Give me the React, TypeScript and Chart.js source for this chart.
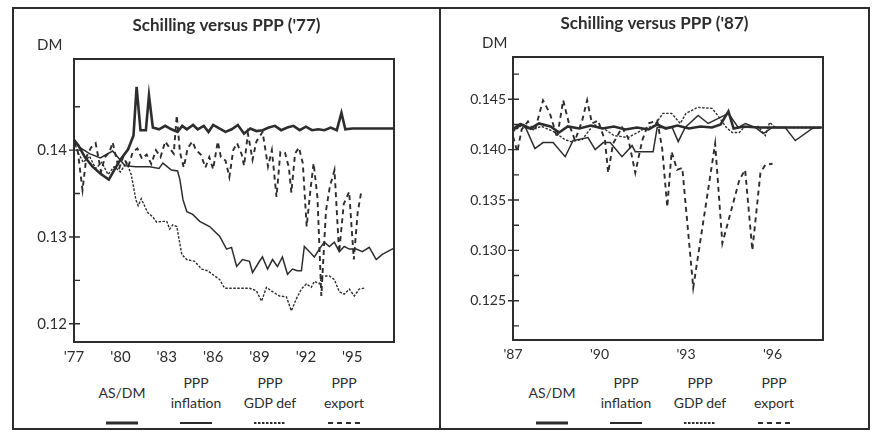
import React, { useEffect, useRef } from "react";
import { Chart, registerables } from "chart.js";

Chart.register(...registerables);

type P = [number, number];

// ---------- text ----------
const leftTitle = "Schilling versus PPP ('77)";
const rightTitle = "Schilling versus PPP ('87)";
const unitLabel = "DM";
const seriesNames = ["AS/DM", "PPP inflation", "PPP GDP def", "PPP export"];
const legendLabels: string[][] = [["AS/DM"], ["PPP", "inflation"], ["PPP", "GDP def"], ["PPP", "export"]];

// ---------- ticks ----------
const leftXTicks = [1977, 1980, 1983, 1986, 1989, 1992, 1995];
const leftYTicks = [0.12, 0.13, 0.14];
const leftYMinor = [0.125, 0.135, 0.145];
const rightXTicks = [1987, 1990, 1993, 1996];
const rightYTicks = [0.125, 0.13, 0.135, 0.14, 0.145];
const rightYMinor = [0.1225, 0.1275, 0.1325, 0.1375, 0.1425, 0.1475];

// ---------- left panel data (year, DM per schilling) ----------
const leftAsdm: P[] = [
  [1977.0, 0.1412], [1977.3, 0.1405], [1977.7, 0.1392], [1978.2, 0.1381], [1978.7, 0.1373],
  [1979.25, 0.1366], [1979.6, 0.1377], [1980.0, 0.1389], [1980.5, 0.1401], [1980.85, 0.1417],
  [1981.05, 0.1473], [1981.3, 0.1423], [1981.65, 0.1423], [1981.85, 0.1463], [1982.1, 0.1426],
  [1982.5, 0.1424], [1982.9, 0.1428], [1983.3, 0.1424], [1983.7, 0.1421], [1984.0, 0.1428],
  [1984.3, 0.1424], [1984.7, 0.1429], [1985.0, 0.1424], [1985.4, 0.1428], [1985.7, 0.1421],
  [1986.0, 0.1429], [1986.4, 0.1425], [1986.8, 0.1421], [1987.2, 0.1424], [1987.6, 0.1429],
  [1988.0, 0.1419], [1988.4, 0.1425], [1988.8, 0.1422], [1989.2, 0.1423], [1989.6, 0.1426],
  [1990.0, 0.1428], [1990.4, 0.1423], [1990.8, 0.1426], [1991.2, 0.1428], [1991.6, 0.1423],
  [1992.0, 0.1427], [1992.4, 0.1423], [1992.8, 0.1424], [1993.2, 0.1423], [1993.6, 0.1426],
  [1994.0, 0.1423], [1994.3, 0.1443], [1994.55, 0.1424], [1995.0, 0.1425], [1996.0, 0.1425],
  [1997.7, 0.1425],
];
const leftInflation: P[] = [
  [1977.0, 0.1412], [1977.3, 0.1404], [1978.0, 0.1396], [1978.7, 0.1391], [1979.5, 0.1399],
  [1980.3, 0.1382], [1981.0, 0.1381], [1981.9, 0.1381], [1982.5, 0.1379], [1982.75, 0.1385],
  [1983.3, 0.1377], [1983.7, 0.1376], [1983.85, 0.1366], [1984.05, 0.1343], [1984.3, 0.1329],
  [1984.68, 0.1326], [1985.13, 0.1318], [1985.77, 0.1312], [1986.42, 0.1301], [1986.87, 0.1286],
  [1987.19, 0.1288], [1987.52, 0.1266], [1987.9, 0.1274], [1988.35, 0.1272], [1988.55, 0.1259],
  [1989.0, 0.1272], [1989.19, 0.1277], [1989.52, 0.1263], [1989.84, 0.1274], [1990.16, 0.1266],
  [1990.48, 0.1277], [1990.81, 0.1257], [1991.13, 0.1263], [1991.45, 0.1261], [1991.71, 0.1261],
  [1991.9, 0.1289], [1992.23, 0.1283], [1992.55, 0.1277], [1992.87, 0.1286], [1993.19, 0.1294],
  [1993.52, 0.1289], [1993.84, 0.1294], [1994.16, 0.1283], [1994.48, 0.1289], [1994.81, 0.1286],
  [1995.26, 0.1286], [1995.65, 0.1283], [1996.1, 0.1288], [1996.55, 0.1274], [1996.94, 0.128],
  [1997.58, 0.1286], [1997.7, 0.1287],
];
const leftGdpDef: P[] = [
  [1977.0, 0.141], [1977.3, 0.1396], [1977.6, 0.1386], [1978.0, 0.1393], [1978.4, 0.1379],
  [1978.8, 0.1386], [1979.2, 0.1372], [1979.6, 0.1381], [1980.0, 0.1375], [1980.4, 0.1386],
  [1980.7, 0.1372], [1980.85, 0.1358], [1981.0, 0.1343], [1981.15, 0.1336], [1981.35, 0.1344],
  [1981.77, 0.1328], [1982.1, 0.1323], [1982.35, 0.1317], [1982.68, 0.1318], [1983.0, 0.1318],
  [1983.19, 0.1309], [1983.39, 0.1314], [1983.65, 0.1312], [1983.97, 0.128], [1984.29, 0.1274],
  [1984.8, 0.1272], [1985.26, 0.1263], [1985.65, 0.1261], [1986.1, 0.1255], [1986.42, 0.1251],
  [1986.74, 0.1241], [1987.06, 0.1241], [1987.71, 0.1241], [1988.35, 0.1241], [1988.8, 0.1238],
  [1989.13, 0.1226], [1989.45, 0.1242], [1989.84, 0.1237], [1990.29, 0.1232], [1990.74, 0.1231],
  [1991.06, 0.1215], [1991.39, 0.1229], [1991.71, 0.124], [1992.03, 0.1246], [1992.35, 0.1242],
  [1992.55, 0.1249], [1992.87, 0.1246], [1993.06, 0.1255], [1993.52, 0.1255], [1993.84, 0.1251],
  [1994.16, 0.1237], [1994.48, 0.1234], [1994.81, 0.124], [1995.13, 0.1232], [1995.45, 0.124],
  [1995.77, 0.1241],
];
const leftExport: P[] = [
  [1977.0, 0.141], [1977.25, 0.1398], [1977.55, 0.1354], [1977.8, 0.1392], [1978.1, 0.1403],
  [1978.4, 0.1408], [1978.75, 0.1375], [1979.0, 0.1392], [1979.3, 0.1398], [1979.5, 0.1409],
  [1979.9, 0.1378], [1980.2, 0.1393], [1980.5, 0.138], [1980.8, 0.1398], [1981.1, 0.1402],
  [1981.4, 0.139], [1981.7, 0.1395], [1982.0, 0.1384], [1982.3, 0.14], [1982.6, 0.1392],
  [1982.9, 0.141], [1983.2, 0.1402], [1983.45, 0.1396], [1983.65, 0.144], [1983.85, 0.1398],
  [1984.1, 0.138], [1984.35, 0.1402], [1984.65, 0.141], [1984.9, 0.14], [1985.2, 0.1395],
  [1985.5, 0.138], [1985.75, 0.1392], [1986.0, 0.1378], [1986.3, 0.141], [1986.5, 0.1392],
  [1986.8, 0.1388], [1987.05, 0.1369], [1987.3, 0.14], [1987.55, 0.1408], [1987.85, 0.1395],
  [1988.0, 0.1382], [1988.25, 0.1419], [1988.55, 0.1389], [1988.8, 0.141], [1989.2, 0.1421],
  [1989.55, 0.1381], [1989.8, 0.14], [1990.1, 0.1346], [1990.35, 0.1398], [1990.65, 0.1397],
  [1990.9, 0.138], [1991.06, 0.1351], [1991.3, 0.1396], [1991.55, 0.1403], [1991.8, 0.1385],
  [1992.05, 0.1312], [1992.3, 0.1355], [1992.5, 0.1385], [1992.75, 0.1345], [1993.0, 0.1232],
  [1993.3, 0.133], [1993.55, 0.1358], [1993.85, 0.1377], [1994.15, 0.1282], [1994.45, 0.1338],
  [1994.8, 0.1352], [1995.1, 0.1274], [1995.35, 0.1328], [1995.6, 0.1354],
];

// ---------- right panel data ----------
const rightAsdm: P[] = [
  [1987.0, 0.142], [1987.3, 0.1425], [1987.6, 0.1421], [1987.9, 0.1426], [1988.3, 0.1423],
  [1988.6, 0.1417], [1988.9, 0.1423], [1989.3, 0.1421], [1989.7, 0.1424], [1990.1, 0.1421],
  [1990.5, 0.1423], [1990.9, 0.142], [1991.3, 0.1422], [1991.7, 0.142], [1992.0, 0.1425],
  [1992.3, 0.1421], [1992.7, 0.1424], [1993.1, 0.1421], [1993.5, 0.1423], [1993.9, 0.1422],
  [1994.2, 0.1425], [1994.47, 0.1438], [1994.65, 0.1421], [1995.0, 0.1423], [1995.5, 0.1422],
  [1996.0, 0.1422], [1997.7, 0.1422],
];
const rightInflation: P[] = [
  [1987.0, 0.1421], [1987.25, 0.1426], [1987.45, 0.1421], [1987.76, 0.1401], [1988.04, 0.1407],
  [1988.39, 0.1407], [1988.81, 0.1393], [1989.08, 0.1409], [1989.6, 0.1412], [1989.85, 0.14],
  [1990.13, 0.1407], [1990.37, 0.1407], [1990.78, 0.1393], [1991.13, 0.1404], [1991.24, 0.1398],
  [1991.86, 0.1398], [1992.0, 0.1422], [1992.52, 0.1422], [1992.73, 0.1408], [1992.97, 0.1422],
  [1993.42, 0.1434], [1993.77, 0.1426], [1994.12, 0.1431], [1994.47, 0.1436], [1994.81, 0.1422],
  [1995.06, 0.1426], [1995.4, 0.1422], [1995.68, 0.1416], [1995.99, 0.1422], [1996.44, 0.1422],
  [1996.79, 0.1409], [1997.38, 0.1421], [1997.7, 0.1422],
];
const rightGdpDef: P[] = [
  [1987.0, 0.1418], [1987.3, 0.1424], [1987.6, 0.142], [1988.0, 0.1423], [1988.4, 0.1418],
  [1988.8, 0.141], [1989.0, 0.1408], [1989.4, 0.141], [1989.8, 0.1425], [1990.2, 0.142],
  [1990.5, 0.1414], [1991.0, 0.1412], [1991.5, 0.142], [1991.9, 0.1424], [1992.2, 0.1436],
  [1992.5, 0.1436], [1992.8, 0.1426], [1993.0, 0.1436], [1993.4, 0.1442], [1993.9, 0.1441],
  [1994.1, 0.1434], [1994.4, 0.1422], [1994.6, 0.1417], [1994.85, 0.1417], [1995.0, 0.1422],
  [1995.5, 0.1423], [1995.75, 0.1414], [1995.9, 0.1427], [1996.1, 0.1422], [1997.7, 0.1422],
];
const rightExport: P[] = [
  [1987.0, 0.1413], [1987.15, 0.1398], [1987.3, 0.142], [1987.52, 0.1428], [1987.75, 0.1418],
  [1988.04, 0.1449], [1988.28, 0.1436], [1988.53, 0.1412], [1988.74, 0.1449], [1988.95, 0.1425],
  [1989.15, 0.1409], [1989.4, 0.1429], [1989.57, 0.1449], [1989.74, 0.1426], [1989.95, 0.1429],
  [1990.19, 0.1409], [1990.3, 0.1377], [1990.47, 0.1406], [1990.78, 0.1422], [1990.99, 0.1412],
  [1991.24, 0.1377], [1991.48, 0.1409], [1991.69, 0.1426], [1992.0, 0.1429], [1992.17, 0.1402],
  [1992.35, 0.1343], [1992.5, 0.1398], [1992.69, 0.138], [1992.87, 0.1382], [1993.25, 0.1263],
  [1994.01, 0.1406], [1994.26, 0.1307], [1994.85, 0.137], [1995.05, 0.138], [1995.3, 0.13],
  [1995.58, 0.1377], [1995.75, 0.1385], [1996.0, 0.1386],
];

// ---------- styling ----------
const INK = "#2d2d2d";
const FONT = "Lato, 'Open Sans', sans-serif";
const LINE_STYLES = [
  { width: 2.6, dash: [] as number[] },
  { width: 1.5, dash: [] as number[] },
  { width: 1.4, dash: [2.5, 1.5] },
  { width: 1.9, dash: [5, 4] },
];

const decorPlugin = {
  id: "panelDecor",
  afterDraw(chart: any, _args: any, opts: any) {
    const { ctx, chartArea: a } = chart;
    const ys = chart.scales.y;
    ctx.save();
    ctx.setLineDash([]);
    ctx.strokeStyle = INK;
    ctx.lineWidth = 2;
    ctx.strokeRect(a.left, a.top, a.right - a.left, a.bottom - a.top);
    ctx.lineWidth = 1.4;
    ctx.beginPath();
    (opts.major || []).forEach((v: number) => {
      const py = ys.getPixelForValue(v);
      ctx.moveTo(a.left - 5, py);
      ctx.lineTo(a.left + 6, py);
    });
    (opts.minor || []).forEach((v: number) => {
      const py = ys.getPixelForValue(v);
      ctx.moveTo(a.left, py);
      ctx.lineTo(a.left + 6, py);
    });
    ctx.stroke();
    ctx.fillStyle = INK;
    ctx.font = `15px ${FONT}`;
    ctx.textAlign = "left";
    ctx.textBaseline = "middle";
    ctx.fillText(opts.unit, a.left + opts.unitDx, a.top + opts.unitDy);
    ctx.restore();
  },
};

type PanelProps = {
  title: string;
  series: P[][];
  xRange: [number, number];
  yRange: [number, number];
  xTicks: number[];
  yTicks: number[];
  yMinor: number[];
  yDecimals: number;
  tickFontSize: number;
  box: { left: number; top: number; width: number; height: number };
  canvasW: number;
  canvasH: number;
  rightGap: number;
  yAxisW: number;
  xAxisH: number;
  titleTop: number;
  unitDx: number;
  legendLeft: number;
};

function Panel(p: PanelProps) {
  const ref = useRef<HTMLCanvasElement | null>(null);
  useEffect(() => {
    if (!ref.current) return;
    const chart = new Chart(ref.current, {
      type: "line",
      data: {
        datasets: p.series.map((pts, i) => ({
          label: seriesNames[i],
          data: pts.map(([x, y]) => ({ x, y })),
          borderColor: INK,
          borderWidth: LINE_STYLES[i].width,
          borderDash: LINE_STYLES[i].dash,
          pointRadius: 0,
          tension: 0,
          fill: false,
          yAxisID: "y",
          xAxisID: "x",
        })),
      },
      options: {
        animation: false,
        responsive: false,
        maintainAspectRatio: false,
        layout: { padding: 0 },
        plugins: {
          legend: { display: false },
          tooltip: { enabled: false },
          title: {
            display: true,
            text: p.title,
            color: INK,
            font: { family: FONT, size: 17, weight: "bold", lineHeight: 1.2 },
            padding: { top: p.titleTop, bottom: 50 - p.titleTop - 20.4 - (p.titleTop === 6 ? 0 : 2) },
          },
          panelDecor: {
            major: p.yTicks,
            minor: p.yMinor,
            unit: unitLabel,
            unitDx: p.unitDx,
            unitDy: -14,
          },
        } as any,
        scales: {
          x: {
            type: "linear",
            min: p.xRange[0],
            max: p.xRange[1],
            grid: { display: false, drawTicks: false },
            border: { display: false },
            ticks: {
              color: INK,
              font: { family: FONT, size: p.tickFontSize },
              padding: 6,
              maxRotation: 0,
              autoSkip: false,
              callback: (v: any) => "'" + String(v).slice(2),
            },
            afterBuildTicks: (s: any) => {
              s.ticks = p.xTicks.map((v) => ({ value: v }));
            },
            afterFit: (s: any) => {
              s.height = p.xAxisH;
            },
          },
          y: {
            type: "linear",
            position: "left",
            min: p.yRange[0],
            max: p.yRange[1],
            grid: { display: false, drawTicks: false },
            border: { display: false },
            ticks: {
              color: INK,
              font: { family: FONT, size: p.tickFontSize },
              padding: 7,
              autoSkip: false,
              callback: (v: any) => Number(v).toFixed(p.yDecimals),
            },
            afterBuildTicks: (s: any) => {
              s.ticks = p.yTicks.map((v) => ({ value: v }));
            },
            afterFit: (s: any) => {
              s.width = p.yAxisW;
            },
          },
          spacer: {
            type: "linear",
            position: "right",
            display: true,
            grid: { display: false, drawTicks: false },
            border: { display: false },
            ticks: { display: false },
            afterFit: (s: any) => {
              s.width = p.rightGap;
            },
          },
        },
      } as any,
      plugins: [decorPlugin as any],
    });
    return () => chart.destroy();
  }, []);

  return (
    <div
      style={{
        position: "absolute",
        left: p.box.left,
        top: p.box.top,
        width: p.box.width,
        height: p.box.height,
        border: `2px solid ${INK}`,
        boxSizing: "border-box",
      }}
    >
      <canvas
        ref={ref}
        width={p.canvasW}
        height={p.canvasH}
        style={{ position: "absolute", left: 0, top: 0, width: p.canvasW, height: p.canvasH }}
      />
      <div
        style={{
          position: "absolute",
          left: p.legendLeft,
          top: 364,
          display: "flex",
          fontFamily: FONT,
          fontSize: 14,
          color: INK,
        }}
      >
        {legendLabels.map((lines, i) => (
          <div key={i} style={{ width: 74, display: "flex", flexDirection: "column", alignItems: "center" }}>
            <div
              style={{
                height: 40,
                lineHeight: "20px",
                display: "flex",
                flexDirection: "column",
                justifyContent: "center",
                alignItems: "center",
                whiteSpace: "nowrap",
              }}
            >
              {lines.map((t, j) => (
                <div key={j}>{t}</div>
              ))}
            </div>
            <svg width={36} height={8} style={{ marginTop: 6, display: "block" }}>
              <line
                x1={2}
                y1={4}
                x2={34}
                y2={4}
                stroke={INK}
                strokeWidth={i === 0 ? 3 : 2}
                strokeDasharray={LINE_STYLES[i].dash.length ? LINE_STYLES[i].dash.join(" ") : undefined}
              />
            </svg>
          </div>
        ))}
      </div>
    </div>
  );
}

export default function App() {
  return (
    <div style={{ position: "absolute", left: 0, top: 0, width: 875, height: 435, background: "#fff" }}>
      <Panel
        title={leftTitle}
        series={[leftAsdm, leftInflation, leftGdpDef, leftExport]}
        xRange={[1977, 1997.7]}
        yRange={[0.1179, 0.1505]}
        xTicks={leftXTicks}
        yTicks={leftYTicks}
        yMinor={leftYMinor}
        yDecimals={2}
        tickFontSize={15}
        box={{ left: 12, top: 7, width: 429, height: 423 }}
        canvasW={425}
        canvasH={363}
        rightGap={45}
        yAxisW={60}
        xAxisH={30}
        titleTop={6}
        unitDx={-37}
        legendLeft={85 - 14}
      />
      <Panel
        title={rightTitle}
        series={[rightAsdm, rightInflation, rightGdpDef, rightExport]}
        xRange={[1987, 1997.75]}
        yRange={[0.1211, 0.1492]}
        xTicks={rightXTicks}
        yTicks={rightYTicks}
        yMinor={rightYMinor}
        yDecimals={3}
        tickFontSize={14}
        box={{ left: 439, top: 7, width: 431, height: 423 }}
        canvasW={427}
        canvasH={363}
        rightGap={45}
        yAxisW={72}
        xAxisH={32}
        titleTop={4}
        unitDx={-31}
        legendLeft={515 - 441}
      />
    </div>
  );
}
